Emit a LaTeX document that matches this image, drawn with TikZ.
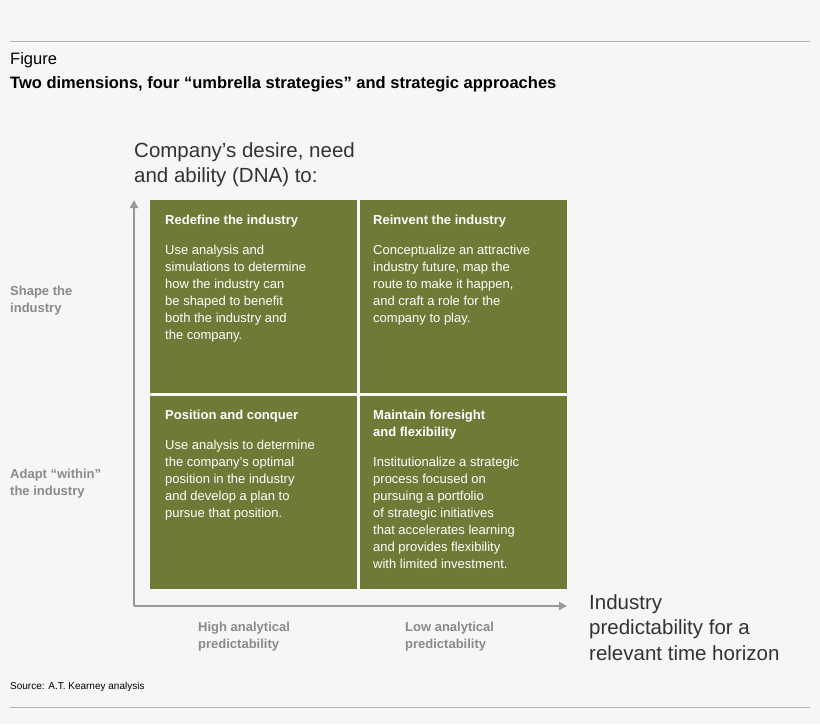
\documentclass[tikz,border=0pt]{standalone}
\usepackage{fontspec}
\setmainfont{Liberation Sans}
\definecolor{olive}{HTML}{6F7A37}
\definecolor{bg}{HTML}{F6F6F6}
\definecolor{lbl}{HTML}{8A8A8A}
\definecolor{txt}{HTML}{333333}
\usetikzlibrary{arrows.meta}
\begin{document}
\begin{tikzpicture}[x=1pt,y=-1pt,
 box/.style={fill=olive,draw=none,minimum width=207pt,minimum height=193pt,anchor=north west},
 btxt/.style={anchor=north west,align=left,text=white,font=\fontsize{13}{17}\selectfont,inner sep=0pt},
 side/.style={anchor=north west,align=left,text=lbl,font=\bfseries\fontsize{13}{16.5}\selectfont,inner sep=0pt},
 big/.style={anchor=north west,align=left,text=txt,font=\fontsize{20.5}{25.5}\selectfont,inner sep=0pt},
 ax/.style={draw=gray!80,line width=2.2pt,-{Triangle[length=8pt,width=8pt]}}]
\fill[bg] (0,0) rectangle (820,724);
\useasboundingbox (0,0) rectangle (820,724);
\draw[gray!60,line width=0.8pt] (10,41) -- (810,41);
\draw[gray!60,line width=0.8pt] (10,707) -- (810,707);
\node[anchor=north west,inner sep=0pt,font=\fontsize{16.5}{20}\selectfont] (fig) at (10,52) {Figure};
\node[anchor=north west,inner sep=0pt,font=\bfseries\fontsize{16.5}{20}\selectfont] (title) at (10,76) {Two dimensions, four “umbrella strategies” and strategic approaches};
\node[big] (dna) at (134,142) {Company’s desire, need\\and ability (DNA) to:};
\node[box] (b1) at (150,200) {};
\node[box] (b2) at (360,200) {};
\node[box] (b3) at (150,396) {};
\node[box] (b4) at (360,396) {};
\node[btxt,font=\bfseries\fontsize{13}{17}\selectfont] (t1) at (165,215) {Redefine the industry};
\node[btxt] (p1) at (165,245) {Use analysis and\\simulations to determine\\how the industry can\\be shaped to benefit\\both the industry and\\the company.};
\node[btxt,font=\bfseries\fontsize{13}{17}\selectfont] (t2) at (373,215) {Reinvent the industry};
\node[btxt] (p2) at (373,245) {Conceptualize an attractive\\industry future, map the\\route to make it happen,\\and craft a role for the\\company to play.};
\node[btxt,font=\bfseries\fontsize{13}{17}\selectfont] (t3) at (165,410) {Position and conquer};
\node[btxt] (p3) at (165,440) {Use analysis to determine\\the company’s optimal\\position in the industry\\and develop a plan to\\pursue that position.};
\node[btxt,font=\bfseries\fontsize{13}{17}\selectfont] (t4) at (373,410) {Maintain foresight\\and flexibility};
\node[btxt] (p4) at (373,457) {Institutionalize a strategic\\process focused on\\pursuing a portfolio\\of strategic initiatives\\that accelerates learning\\and provides flexibility\\with limited investment.};
\coordinate (o) at (134,606);
\coordinate (yt) at (134,200);
\coordinate (xr) at (567,606);
\draw[ax] (o) -- (yt);
\draw[ax] (o) -- (xr);
\node[side] (s1) at (10,286) {Shape the\\industry};
\node[side] (s2) at (10,469) {Adapt “within”\\the industry};
\node[side] (h1) at (198,622) {High analytical\\predictability};
\node[side] (h2) at (405,622) {Low analytical\\predictability};
\node[big] (ind) at (589,594) {Industry\\predictability for a\\relevant time horizon};
\node[anchor=north west,inner sep=0pt,font=\fontsize{10}{12}\selectfont] (src) at (10,682) {Source: A.T. Kearney analysis};
\end{tikzpicture}
\end{document}
